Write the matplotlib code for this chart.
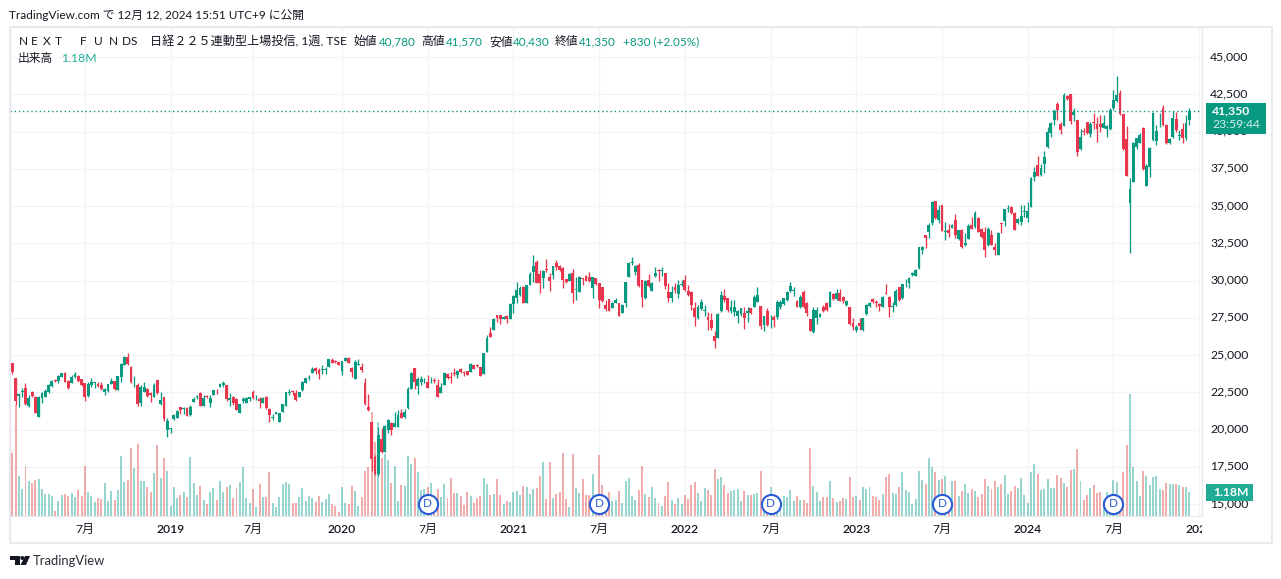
import numpy as np
import matplotlib
matplotlib.use("Agg")
import matplotlib.pyplot as plt
from matplotlib.patches import Rectangle, Polygon, Circle
from matplotlib.transforms import Bbox, ScaledTranslation

plt.rcParams['font.family'] = ['Lato', 'Noto Sans CJK JP', 'DejaVu Sans']

# weekly candles
opens = [24440,23460,22250,22520,22810,21580,22540,22160,20860,22090,
22200,22540,22920,23320,23280,23550,23820,23280,23140,23500,
23590,23370,23100,22250,22990,23100,23060,22990,22500,22610,
23060,23280,22650,23500,24330,24890,24220,23170,22990,21760,
22540,22700,22430,22200,23330,21710,22200,19970,20030,20680,
20750,21490,21370,21430,20950,21850,22160,22470,21600,22250,
21760,22320,22740,22880,22970,22990,21980,22160,22030,21130,
21940,21800,22070,22540,22090,22050,21760,22200,21360,20800,
21040,20530,21200,21600,22470,22590,22470,22200,22650,23150,
23480,23820,24150,24000,24000,24020,24220,24670,24600,24530,
23950,24620,24820,24110,23390,24350,24200,23100,21490,20530,
18130,16990,19340,18510,19970,20420,20190,20190,21130,20860,
21470,22720,24110,22940,23210,23230,23190,23230,23320,22990,
22470,23010,23730,23500,23770,23640,24080,23860,23910,23880,
24310,24310,24220,23730,25230,26460,26680,27660,27660,27420,
27640,27420,28420,28850,29010,29590,28470,29720,30590,31270,
30440,30170,30750,30260,30370,31150,30970,30860,30080,29990,
30480,29360,29250,30150,30330,30210,29480,30150,29810,29540,
28360,28740,28180,28510,28510,27800,28510,30260,31150,30590,
31040,30040,28800,30040,29320,30300,30710,30660,30480,29250,
28850,29590,29100,29680,30040,29320,29250,28130,27460,28070,
27950,27570,27350,26280,26120,27950,28960,28800,27950,27910,
27640,27750,27800,27800,28130,28250,28580,28310,27020,27950,
27260,27570,27570,28250,28420,28690,29320,29320,28650,28200,
29250,28470,27400,26520,27460,27570,28200,28470,28250,29100,
28740,29190,28920,28360,28250,27130,26680,27130,26660,27750,
28290,28760,28580,28420,28250,29140,28890,28200,28360,29540,
28800,29810,29810,30350,30300,30820,32050,33060,33230,33880,
35340,34060,35070,33280,33390,33550,34060,32790,33390,32380,
32790,33730,33570,34220,33460,33230,32380,33060,32230,31710,
33840,34020,34780,34960,34550,33840,33910,34600,34170,34960,
36970,37750,37080,37820,38940,39880,40770,41850,40480,40390,
42380,42500,41110,40770,38800,40030,40660,39830,40660,40500,
40500,40260,40150,40150,41560,42070,42560,41180,39480,35230,
36630,38940,39250,40260,36370,37640,39430,39360,41020,41600,
40440,39210,39610,40840,39700,40150,39540,40780]

highs = [24490,23460,22430,22810,23120,22320,22610,22250,22250,22540,
22700,23030,23320,23410,23660,23770,23860,23320,23660,23860,
23660,23410,23140,23210,23440,23210,23170,23170,22810,23030,
23480,23280,23590,24440,24960,25110,24270,23590,23140,22990,
23210,22770,22540,23100,23330,22500,22200,20750,20080,21040,
21290,21490,21540,21540,21650,22160,22320,22540,22320,22290,
22320,22650,22740,23140,23260,22990,22430,22250,22090,21690,
22160,22200,22200,22650,22320,22200,22200,22250,21420,21040,
21180,21130,21690,22500,22700,22650,22650,22540,23280,23480,
23660,24220,24220,24110,24330,24220,24760,24780,24670,24530,
24600,24850,24890,24220,24650,24710,24490,23440,22380,20530,
18290,20190,20080,20300,20680,20530,21150,21310,21360,21360,
22830,23880,24110,23550,23590,23440,23660,23550,23480,23370,
23150,23880,23820,23880,24110,24000,24130,23950,23950,24440,
24350,24380,24220,25160,26340,26860,27510,27660,27660,27620,
27690,28470,29030,29880,29630,29630,29700,30590,31710,31380,
30710,30710,31440,30530,30970,31380,31020,30930,30130,30480,
30770,30260,30300,30150,30370,30590,30260,30150,29810,29590,
28690,28740,28580,28850,28510,28400,29920,31220,31560,31040,
31150,30040,30040,30440,29880,30890,30770,30890,30530,29810,
29650,29810,30040,30040,30370,29700,29320,28580,28360,28740,
28360,27910,27840,26610,27800,29300,29410,28850,28690,28690,
28020,28180,28250,28250,28130,29010,29590,28310,27620,28130,
27690,27690,28690,28690,28850,29320,29920,29540,28690,29030,
29360,28580,27440,28250,28250,27820,28360,28580,29300,29190,
29410,29410,28960,28690,28250,27460,27020,27460,27510,28400,
28580,28850,28690,28470,28960,29770,28960,28580,29410,29590,
29740,30080,30210,30590,30750,32270,32320,33060,33840,35340,
35340,35070,35070,33950,33790,33770,34460,33410,33440,33170,
33790,34290,34640,34290,33500,33610,33610,33390,32540,33260,
33880,34780,35070,35000,34620,34170,35070,35070,35290,36970,
37640,38360,37800,38690,40330,40660,41490,42000,40660,42610,
42430,42500,41560,40770,40150,40260,40660,40660,41270,41000,
41110,41110,40440,41560,42790,43730,42790,41180,40370,36860,
39300,39590,39880,40300,37820,38980,41310,40440,41220,41780,
40480,39540,41400,41330,40100,40550,41110,41570]

lows = [23750,21650,21530,22200,21650,21530,22200,21090,20860,21760,
22160,22470,22880,23190,23140,23500,23170,22720,23100,23460,
23210,22940,21920,22200,22880,22760,22830,22680,22320,22540,
23060,22650,22650,23210,24330,24330,23100,22880,21600,21600,
22500,22160,21870,22160,22400,21650,20600,19520,19790,20640,
20750,21040,21040,20910,20910,21850,22050,21580,21600,22120,
21540,22320,22380,22830,22880,21940,21600,21650,21310,21130,
21760,21760,21920,22030,21980,21420,21760,21380,20530,20640,
21040,20530,21200,21600,22320,22320,21920,22160,22610,23100,
23320,23820,23730,23390,23730,23730,24200,24440,24440,24350,
23660,24600,24490,23550,23390,24330,23860,21650,21240,17240,
16950,16900,18450,18470,19740,19630,20190,20190,20750,20800,
21360,22720,22720,22380,22990,23100,22810,23100,23150,22210,
22430,22990,23370,23100,23590,23460,23820,23590,23640,23860,
24040,24170,23570,23730,25230,26190,26680,27240,27080,27400,
27170,27420,27800,28510,28960,28470,28470,29700,29920,29810,
29190,29500,30590,29320,30100,30710,30660,29520,29860,29990,
28470,28690,29250,29700,29970,29920,28850,29720,28130,28580,
27980,27950,28130,28470,27640,27800,28250,30260,31040,30370,
29590,28200,28760,29540,29320,30260,29990,30300,29410,28540,
28580,29190,28800,29630,29320,28960,28020,26950,27420,28020,
27620,26680,26680,25490,26120,27910,28580,27870,27840,27620,
27130,27640,26750,27240,27780,28250,28580,26720,26640,26950,
26840,26900,27420,28100,28380,28630,29250,28960,28200,28130,
28130,27620,26590,26500,27080,27550,27910,27950,28200,28690,
28690,28650,28510,28310,27040,26680,26570,26680,26640,27710,
28250,28470,28250,27950,28200,29100,27570,27910,28310,28650,
28780,29590,29520,30300,30300,30800,31800,32210,32880,33730,
34150,33840,33300,32720,32940,33500,32830,32720,32160,32340,
32790,33460,33550,33230,32830,31600,32340,32380,31710,31690,
33210,33680,34620,34460,33390,33790,33730,34290,33950,34910,
36700,37020,37020,37190,38870,39610,40440,40770,39810,40370,
42100,40500,40730,38380,38760,39770,39800,39650,40170,39320,
40000,40210,39650,40100,41440,42000,41110,38760,37020,31820,
36590,38850,39210,37420,36320,36970,39390,39100,40330,40390,
39160,39180,39540,39990,39430,39250,39430,40430]

closes = [23880,21920,22380,22550,21710,22090,22250,21130,22200,22430,
22590,22990,23280,23280,23590,23770,23210,22810,23550,23700,
23280,22990,22160,23060,23190,23170,22920,22720,22720,23030,
23280,22700,23590,24400,24850,24400,23210,23210,21710,22880,
22880,22250,22320,22990,22430,21980,20680,20570,20080,20970,
21270,21310,21430,20910,21540,22070,22250,21580,22090,22180,
22090,22650,22700,23060,23140,22070,22120,21800,21310,21690,
22030,22090,22160,22140,22140,21940,22090,21420,20980,20840,
21180,21130,21690,22500,22540,22500,21980,22540,23210,23440,
23550,24040,23930,23730,24040,24060,24710,24490,24530,24350,
24600,24820,24490,23880,24510,24400,24000,21710,21310,18000,
17020,19630,18510,20260,20640,19970,20460,20980,20800,21200,
22720,23820,23170,23410,23370,23280,22810,23280,23280,22210,
22880,23820,23440,23460,23730,23930,23860,23790,23660,24380,
24060,24240,23590,25110,26170,26230,27420,27460,27400,27570,
27440,28400,28960,29360,29480,28510,29700,30440,30970,29860,
29810,30640,30710,29970,30970,30890,30710,30040,29880,30440,
29140,29410,30260,30100,29990,29990,30210,29770,28690,28630,
28090,27950,28470,28690,27640,28360,29880,31150,31240,31000,
29630,28870,29990,29630,29860,30530,30660,30710,29630,28800,
29250,29360,29700,29740,29360,29030,28360,27570,28250,28580,
28000,27350,26790,25960,27750,29030,28690,28020,28250,28250,
27950,28180,27460,27950,27800,28920,29030,26950,27620,27020,
27310,27350,28580,28580,28800,29250,29650,29360,28250,28920,
28200,27800,26640,28020,28020,27750,27980,28020,29250,28740,
29190,28650,28600,28650,27080,26900,26860,26950,27460,28360,
28510,28540,28470,28290,28920,29100,28250,28290,29320,28690,
29740,29860,30150,30480,30710,32270,32270,32880,33730,35290,
34170,34730,33350,33320,33170,33730,33060,33390,32270,32500,
33660,33460,34550,33280,32940,32050,33440,32380,32050,33170,
33770,34780,34840,34510,33390,34130,34350,34640,34690,36860,
37310,37040,37530,38270,39950,40550,41400,41440,40100,42450,
42200,40730,41330,38650,39650,39950,39900,40480,40590,40150,
40280,40550,40370,41440,42120,42450,41150,38800,37040,36120,
39250,39540,39770,37460,37690,38870,41270,40060,41060,40420,
39210,39500,40880,40100,39770,39540,40550,41350]

# bar heights measured on the zoomed crops, last bar is 1.18M
volume_read = [190,333,120,81,150,105,99,108,111,81,
66,66,60,15,45,63,66,60,69,57,
78,60,150,72,60,42,54,51,99,45,
75,48,78,180,102,108,204,144,216,105,
105,87,72,129,213,114,174,135,30,87,
54,63,72,57,177,99,63,90,48,36,
72,84,48,105,72,87,93,54,84,102,
147,54,39,81,27,96,57,57,132,39,
27,57,96,102,96,39,39,57,84,45,
60,54,42,60,42,51,66,36,30,12,
87,39,36,90,75,30,57,135,147,312,
222,282,173,186,168,99,150,45,
93,90,180,156,174,132,78,80,87,99,
40,81,57,96,54,114,69,69,60,33,
72,60,39,54,60,114,96,63,66,111,
63,36,45,42,72,75,63,90,87,66,
81,84,120,162,51,162,54,66,72,189,
51,27,186,84,69,111,63,63,126,63,
183,93,48,72,45,48,75,39,105,114,
60,48,78,150,66,57,87,54,39,30,
60,102,48,36,54,36,63,51,93,102,
69,45,84,78,63,141,111,117,93,69,
75,78,81,45,75,63,63,66,69,135,
38,38,87,38,43,38,60,57,78,45,
60,48,
48,38,204,90,72,45,57,57,105,54,
42,45,54,51,117,57,60,48,87,81,
87,60,57,48,66,117,126,69,66,87,
132,78,72,36,51,135,108,96,174,147,
132,108,111,120,48,105,105,60,75,96,
69,81,75,57,66,111,90,81,105,87,
96,123,66,75,90,84,114,63,39,132,
156,126,78,81,111,84,84,123,114,99,
87,138,141,201,105,48,63,84,93,69,
72,48,72,50,108,102,38,132,213,366,
147,105,60,135,120,93,117,120,81,78,
99,96,96,96,93,87,87,72]

price_ticks = list(range(15000, 45001, 2500))
time_ticks = [22, 48, 73, 100, 126, 152, 178, 204, 230, 256, 282, 308, 334, 360]
time_labels = ['7月', '2019', '7月', '2020', '7月', '2021', '7月', '2022', '7月', '2023', '7月', '2024', '7月', '2025']
dividend_weeks = [126, 178, 230, 282, 334]
last_price = 41350

TEAL = '#089981'
RED = '#e8364f'
TEXT = '#131722'
GRID = '#f2f3f8'
BORDER = '#e8eaef'

opens = np.array(opens)
highs = np.array(highs)
lows = np.array(lows)
closes = np.array(closes)
volume = np.array(volume_read) * 1.18 / 72
weeks = np.arange(len(closes))
up = closes >= opens

W, H = 1281, 579
fig = plt.figure(figsize=(W / 100, H / 100), dpi=100, facecolor='white')
rect = [10 / W, (H - 516) / H, 1192 / W, 489 / H]

# back axes: grid and tick labels
ax = fig.add_axes(rect, zorder=0)
ax.set_xlim(-0.7, 360.85)
ax.set_ylim(14197, 47013)
ax.set_yticks(price_ticks)
ax.set_yticklabels([f'{p:,}' for p in price_ticks])
ax.yaxis.tick_right()
ax.set_xticks(time_ticks)
ax.set_xticklabels(time_labels)
ax.tick_params(axis='y', length=0, pad=6, labelsize=8.8, colors=TEXT)
ax.tick_params(axis='x', length=0, pad=5.5, labelsize=8.7, colors=TEXT)
ax.grid(True, color=GRID, lw=0.9)
ax.set_axisbelow(True)
for s in ax.spines.values():
    s.set_color(BORDER)
    s.set_linewidth(1)
for lab in ax.get_xticklabels():
    if lab.get_text() != '7月':
        lab.set_fontweight('semibold')
# price labels sit a bit higher in the original
up_shift = ScaledTranslation(0, 1.5 / 72 * 0.72, fig.dpi_scale_trans)
for lab in ax.get_yticklabels():
    lab.set_transform(lab.get_transform() + up_shift)
# the last label is cut by the price scale
ax.get_xticklabels()[-1].set_clip_box(Bbox([[0, 0], [1202, H]]))
ax.get_xticklabels()[-1].set_clip_on(True)

# volume
vax = fig.add_axes(rect, zorder=1)
vax.patch.set_visible(False)
vax.set_xlim(ax.get_xlim())
vax.set_ylim(0, 24.04)
vax.axis('off')
vax.bar(weeks[up], volume[up], width=0.6, color='#26a69a', alpha=0.47, lw=0)
vax.bar(weeks[~up], volume[~up], width=0.6, color='#e0524f', alpha=0.47, lw=0)

# candles
cax = fig.add_axes(rect, zorder=2)
cax.patch.set_visible(False)
cax.set_xlim(ax.get_xlim())
cax.set_ylim(ax.get_ylim())
cax.axis('off')
colors = np.where(up, TEAL, RED)
cax.vlines(weeks, lows, highs, colors=colors, lw=0.95)
body_low = np.minimum(opens, closes)
body_high = np.maximum(opens, closes)
cax.bar(weeks, np.maximum(body_high - body_low, 40), bottom=body_low, width=0.86, color=colors, lw=0)
cax.axhline(last_price, color=TEAL, lw=1, ls=(0, (1, 2)))

# dividend markers
cax.scatter(dividend_weeks, [15020] * len(dividend_weeks), s=190, facecolor='white',
            edgecolor='#2a5bd7', linewidth=1.5, zorder=5)
for w in dividend_weeks:
    cax.text(w, 15020, 'D', color='#2a5bd7', fontsize=8.5, ha='center', va='center', zorder=6)

# everything else in pixel positions
top = fig.add_axes([0, 0, 1, 1], zorder=5)
top.set_xlim(0, W)
top.set_ylim(H, 0)
top.patch.set_visible(False)
top.axis('off')

top.add_patch(Rectangle((10, 27), 1262, 516, fill=False, edgecolor=BORDER, lw=1.5))
top.add_patch(Rectangle((1206, 103), 60, 31, facecolor=TEAL, lw=0))
top.text(1212, 111, '41,350', color='white', fontsize=8.7, fontweight='bold', va='center')
top.text(1212, 125, '23:59:44', color='#d5f0ea', fontsize=8.7, va='center')
top.add_patch(Rectangle((1206, 484), 47, 17, facecolor='#22ab94', lw=0))
top.text(1213, 492.5, '1.18M', color='white', fontsize=8.7, fontweight='bold', va='center')

top.text(9, 15, 'TradingView.com で 12月 12, 2024 15:51 UTC+9 に公開', color=TEXT, fontsize=8.5, va='center')
for x, s in zip([19, 31, 43, 55, 80, 94, 109, 122, 131], 'NEXTFUNDS'):
    top.text(x, 41.5, s, color=TEXT, fontsize=8.6, va='center')
top.text(150, 41.5, '日経２２５連動型上場投信, 1週, TSE', color=TEXT, fontsize=8.75, va='center')
for x, s in [(354, '始値'), (421, '高値'), (489, '安値'), (555, '終値')]:
    top.text(x, 41.5, s, color=TEXT, fontsize=8.5, va='center')
for x, s in [(379, '40,780'), (446, '41,570'), (513, '40,430'), (579, '41,350'), (623, '+830 (+2.05%)')]:
    top.text(x, 41.5, s, color=TEAL, fontsize=8.5, va='center')
top.text(18, 58.5, '出来高', color=TEXT, fontsize=8.5, va='center')
top.text(61, 58.5, '1.18M', color='#22ab94', fontsize=8.8, va='center')

# logo
top.add_patch(Polygon([(10, 556), (20, 556), (20, 565), (15, 565), (15, 560), (10, 560)], facecolor=TEXT, lw=0))
top.add_patch(Circle((22.3, 558), 2, facecolor=TEXT, lw=0))
top.add_patch(Polygon([(25, 556), (30, 556), (26, 565), (20.5, 565)], facecolor=TEXT, lw=0))
top.text(33, 561, 'TradingView', color='#2a2e39', fontsize=9.4, va='center')

fig.savefig('out.png', dpi=100)
